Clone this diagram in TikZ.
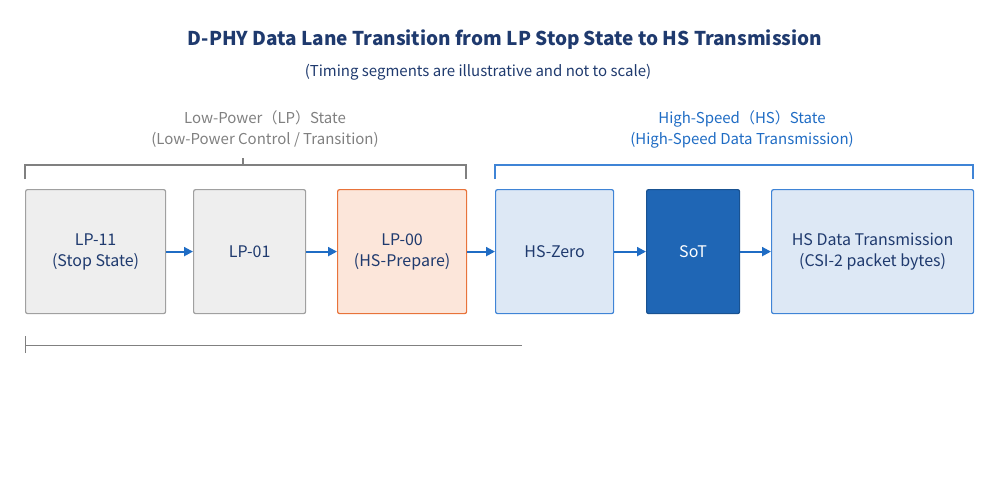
\documentclass[tikz,border=0pt]{standalone}
\usepackage{fontspec}
\setmainfont{Noto Sans CJK SC}
\usetikzlibrary{positioning,arrows.meta}
\definecolor{navy}{HTML}{1F3A6E}
\definecolor{lpgray}{HTML}{EEEEEE}
\definecolor{lpedge}{HTML}{A0A0A0}
\definecolor{orfill}{HTML}{FCE6DA}
\definecolor{oredge}{HTML}{E8733A}
\definecolor{hsfill}{HTML}{DDE8F5}
\definecolor{hsedge}{HTML}{3F84D6}
\definecolor{sotfill}{HTML}{1F66B5}
\definecolor{arrowblue}{HTML}{1F6CC4}
\tikzset{
  state/.style = {shape=rectangle, rounded corners=2pt, draw, line width=1.2pt, align=center,
    text=navy, font=\fontsize{16}{21}\selectfont, anchor=north west, inner sep=0pt},
  lp/.style = {state, fill=lpgray, draw=lpedge},
  prep/.style = {state, fill=orfill, draw=oredge},
  hs/.style = {state, fill=hsfill, draw=hsedge},
  sot/.style = {state, fill=sotfill, draw=sotfill!80!black, text=white},
  flow/.style = {-{Triangle[length=9pt,width=9pt]}, draw=arrowblue, line width=2pt},
  brace/.style = {line width=1.1pt}
}
\begin{document}
\begin{tikzpicture}[x=1pt,y=-1pt]
  \useasboundingbox (0,0) rectangle (1000,500);
  \node[font=\bfseries\fontsize{19}{23}\selectfont, text=navy] (title) at (505,40) {D-PHY Data Lane Transition from LP Stop State to HS Transmission};
  \node[font=\fontsize{15}{18}\selectfont, text=navy] (sub) at (478,72) {(Timing segments are illustrative and not to scale)};
  % state labels
  \node[font=\fontsize{15}{21}\selectfont, text=gray, align=center] (lplab) at (265,129) {Low-Power（LP）State\\(Low-Power Control / Transition)};
  \node[font=\fontsize{15}{21}\selectfont, text=arrowblue, align=center] (hslab) at (742,129) {High-Speed（HS）State\\(High-Speed Data Transmission)};
  % states
  \node[lp, minimum width=140, minimum height=124] (lp11) at (25,189) {LP-11\\(Stop State)};
  \node[lp, minimum width=112, minimum height=124] (lp01) at (193,189) {LP-01};
  \node[prep, minimum width=129, minimum height=124] (lp00) at (337,189) {LP-00\\(HS-Prepare)};
  \node[hs, minimum width=118, minimum height=124] (hszero) at (495,189) {HS-Zero};
  \node[sot, minimum width=93, minimum height=124] (sot) at (646,189) {SoT};
  \node[hs, minimum width=202, minimum height=124] (hsdata) at (771,189) {HS Data Transmission\\(CSI-2 packet bytes)};
  \draw[flow] (lp11) -- (lp01);
  \draw[flow] (lp01) -- (lp00);
  \draw[flow] (lp00) -- (hszero);
  \draw[flow] (hszero) -- (sot);
  \draw[flow] (sot) -- (hsdata);
  % brackets
  \draw[brace, draw=gray] (lp11.north west) ++(0,-10) |- (466,165) -- (466,179);
  \draw[brace, draw=gray] (243,165) -- (243,158);
  \draw[brace, draw=hsedge] (hszero.north west) ++(0,-10) |- (973,165) -- (973,179);
  % timeline
  \coordinate (tl) at (25,345);
  \coordinate (tr) at (522,345);
  \draw[line width=0.9pt, draw=gray] (tl) -- (tr);
  \draw[line width=0.9pt, draw=gray] ([yshift=-8]tl) -- ([yshift=9]tl);
\end{tikzpicture}
\end{document}
